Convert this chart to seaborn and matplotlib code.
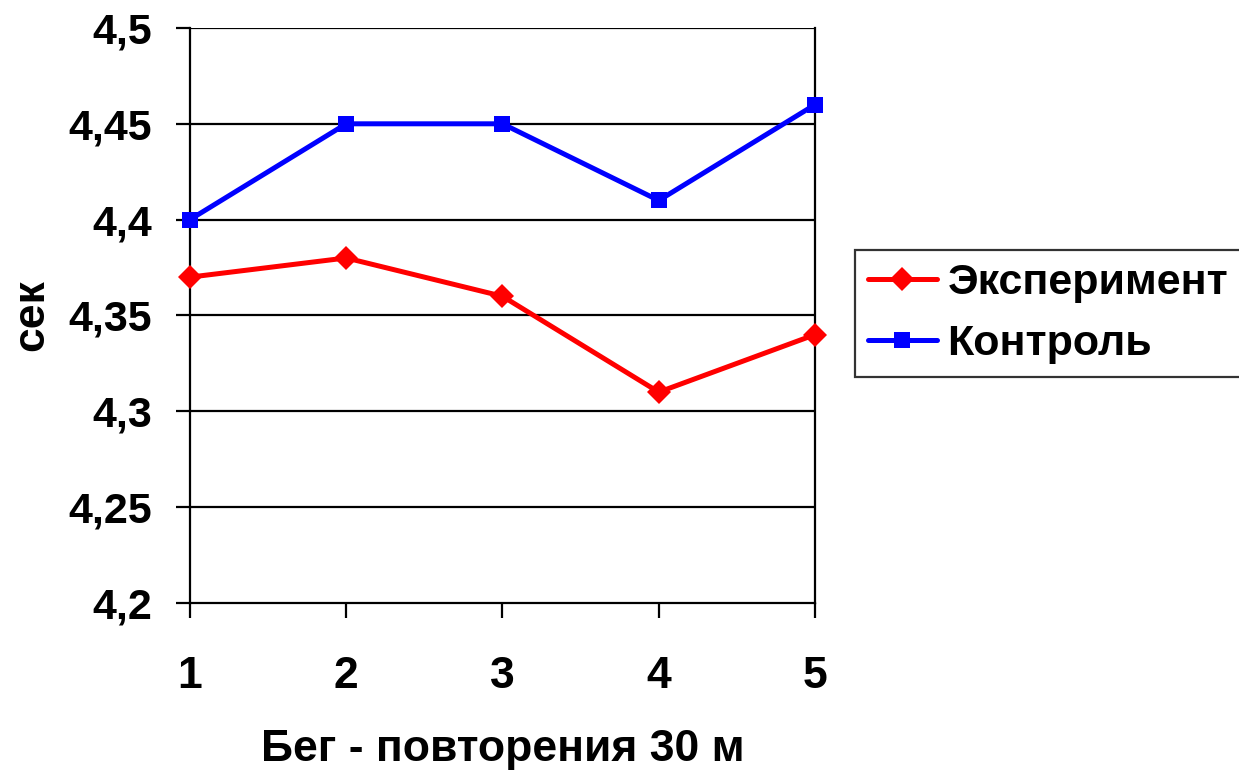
import matplotlib
matplotlib.use("Agg")
import matplotlib.pyplot as plt
import seaborn as sns
import pandas as pd

# Run repetitions (30 m sprint) and times in seconds
runs = [1, 2, 3, 4, 5]
experiment = [4.37, 4.38, 4.36, 4.31, 4.34]
control = [4.40, 4.45, 4.45, 4.41, 4.46]
series_names = ["Эксперимент", "Контроль"]
y_ticks = [4.2, 4.25, 4.3, 4.35, 4.4, 4.45, 4.5]
y_tick_labels = ["4,2", "4,25", "4,3", "4,35", "4,4", "4,45", "4,5"]

df = pd.DataFrame({
    "run": runs * 2,
    "time": experiment + control,
    "group": [series_names[0]] * len(runs) + [series_names[1]] * len(runs),
})

sns.set_theme(style="white")
plt.rcParams["font.family"] = ["Liberation Sans", "DejaVu Sans"]
plt.rcParams["font.weight"] = "bold"
for key in ["text.color", "axes.labelcolor", "xtick.color", "ytick.color"]:
    plt.rcParams[key] = "black"

fig = plt.figure(figsize=(12.39, 7.77), dpi=100)
ax = fig.add_axes([0.1533, 0.224, 0.5045, 0.740])

palette = {series_names[0]: "#ff0000", series_names[1]: "#0000ff"}
markers = {series_names[0]: "D", series_names[1]: "s"}
sns.lineplot(data=df, x="run", y="time", hue="group", style="group",
             palette=palette, markers=markers, dashes=False,
             linewidth=3.6, markersize=12, markeredgewidth=0,
             ax=ax, zorder=3, clip_on=False)

# Horizontal grid lines
for t in y_ticks[1:]:
    ax.axhline(t, color="black", linewidth=1.6, zorder=1)

ax.set_xlim(1, 5)
ax.set_ylim(4.2, 4.5)
ax.set_xticks(runs)
ax.set_xticklabels([str(r) for r in runs], fontsize=32, fontweight="bold")
ax.set_yticks(y_ticks)
ax.set_yticklabels(y_tick_labels, fontsize=31, fontweight="bold")
ax.tick_params(axis="x", direction="out", length=11, width=1.6, color="black",
               bottom=True, pad=27)
ax.tick_params(axis="y", direction="out", length=10, width=1.6, color="black",
               left=True, pad=17)

for side in ["left", "right", "bottom"]:
    ax.spines[side].set_visible(True)
    ax.spines[side].set_color("black")
    ax.spines[side].set_linewidth(1.6)
ax.spines["top"].set_visible(False)

ax.set_xlabel("Бег - повторения 30 м", fontsize=32, fontweight="bold", labelpad=23)
ax.set_ylabel("сек", fontsize=32, fontweight="bold", labelpad=12)

leg = ax.legend(loc="upper left", bbox_to_anchor=(1.064, 0.614),
                fontsize=31, frameon=True, fancybox=False,
                edgecolor="black", handlelength=1.6, handletextpad=0.25,
                borderpad=0.3, labelspacing=0.5, borderaxespad=0)
leg.get_frame().set_linewidth(1.6)
for txt in leg.get_texts():
    txt.set_fontweight("bold")
for line in leg.get_lines():
    line.set_linewidth(3.6)
    line.set_markersize(12)

fig.savefig("out.png", dpi=100, facecolor="white")
